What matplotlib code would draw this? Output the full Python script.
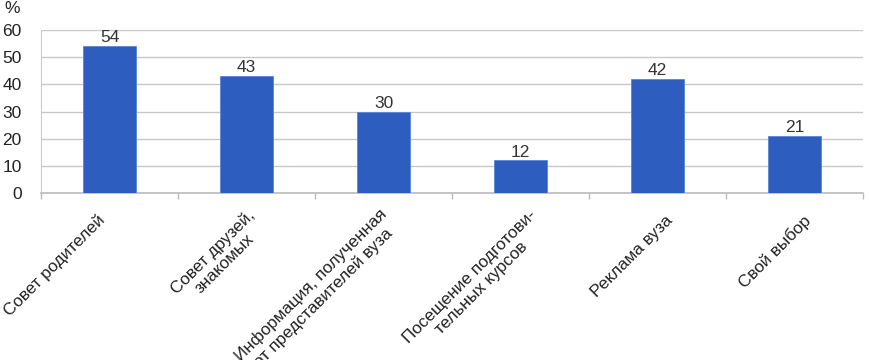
import matplotlib.pyplot as plt
import numpy as np

plt.rcParams['font.family'] = ['Liberation Sans', 'DejaVu Sans']

# data
categories = [
    'Совет родителей',
    'Совет друзей,\nзнакомых',
    'Информация, полученная\nот представителей вуза',
    'Посещение подготови-\nтельных курсов',
    'Реклама вуза',
    'Свой выбор',
]
values = [54, 43, 30, 12, 42, 21]
y_ticks = [0, 10, 20, 30, 40, 50, 60]

fig = plt.figure(figsize=(8.71, 3.6), dpi=100)
ax = fig.add_axes([41 / 871, 1 - 193 / 360, (863 - 41) / 871, (193 - 30) / 360])

x = np.arange(len(values))
bars = ax.bar(x, values, width=0.39, color='#2C5DBF', edgecolor='#5A86D6',
              linewidth=0.6, zorder=3)

for b, v in zip(bars, values):
    ax.text(b.get_x() + b.get_width() / 2, v + 0.3, str(v), ha='center',
            va='bottom', fontsize=12.5, color='#333333', zorder=4)

ax.set_xlim(-0.5, len(values) - 0.5)
ax.set_ylim(0, 60)
ax.set_yticks(y_ticks)
ax.tick_params(axis='y', length=0, pad=14, labelsize=12.5, labelcolor='#222222')
ax.yaxis.grid(True, color='#C8C8C8', linewidth=1.0, zorder=0)

# category boundary ticks
ax.set_xticks(np.arange(len(values) + 1) - 0.5, minor=True)
ax.tick_params(axis='x', which='minor', length=4, color='#BBBBBB', width=1)
ax.set_xticks(x)
ax.set_xticklabels([])
ax.tick_params(axis='x', which='major', length=0)

# rotated category labels, right edge near each bar
label_dx = [-5, 8, 5, 14, 9, 10]
for i, lab in enumerate(categories):
    ax.annotate(lab, xy=(i, 0), xycoords=('data', 'axes fraction'),
                xytext=(label_dx[i], -18), textcoords='offset points',
                rotation=45, rotation_mode='anchor', ha='right', va='center',
                multialignment='center', fontsize=12.3, color='#222222',
                linespacing=1.1, annotation_clip=False)

for s in ['top', 'right']:
    ax.spines[s].set_visible(False)
ax.spines['left'].set_color('#CCCCCC')
ax.spines['bottom'].set_color('#BBBBBB')
ax.spines['bottom'].set_linewidth(1.2)

fig.text(4 / 871, 1 - 1 / 360, '%', ha='left', va='top', fontsize=12.5, color='#222222')

fig.savefig('out.png', dpi=100)
